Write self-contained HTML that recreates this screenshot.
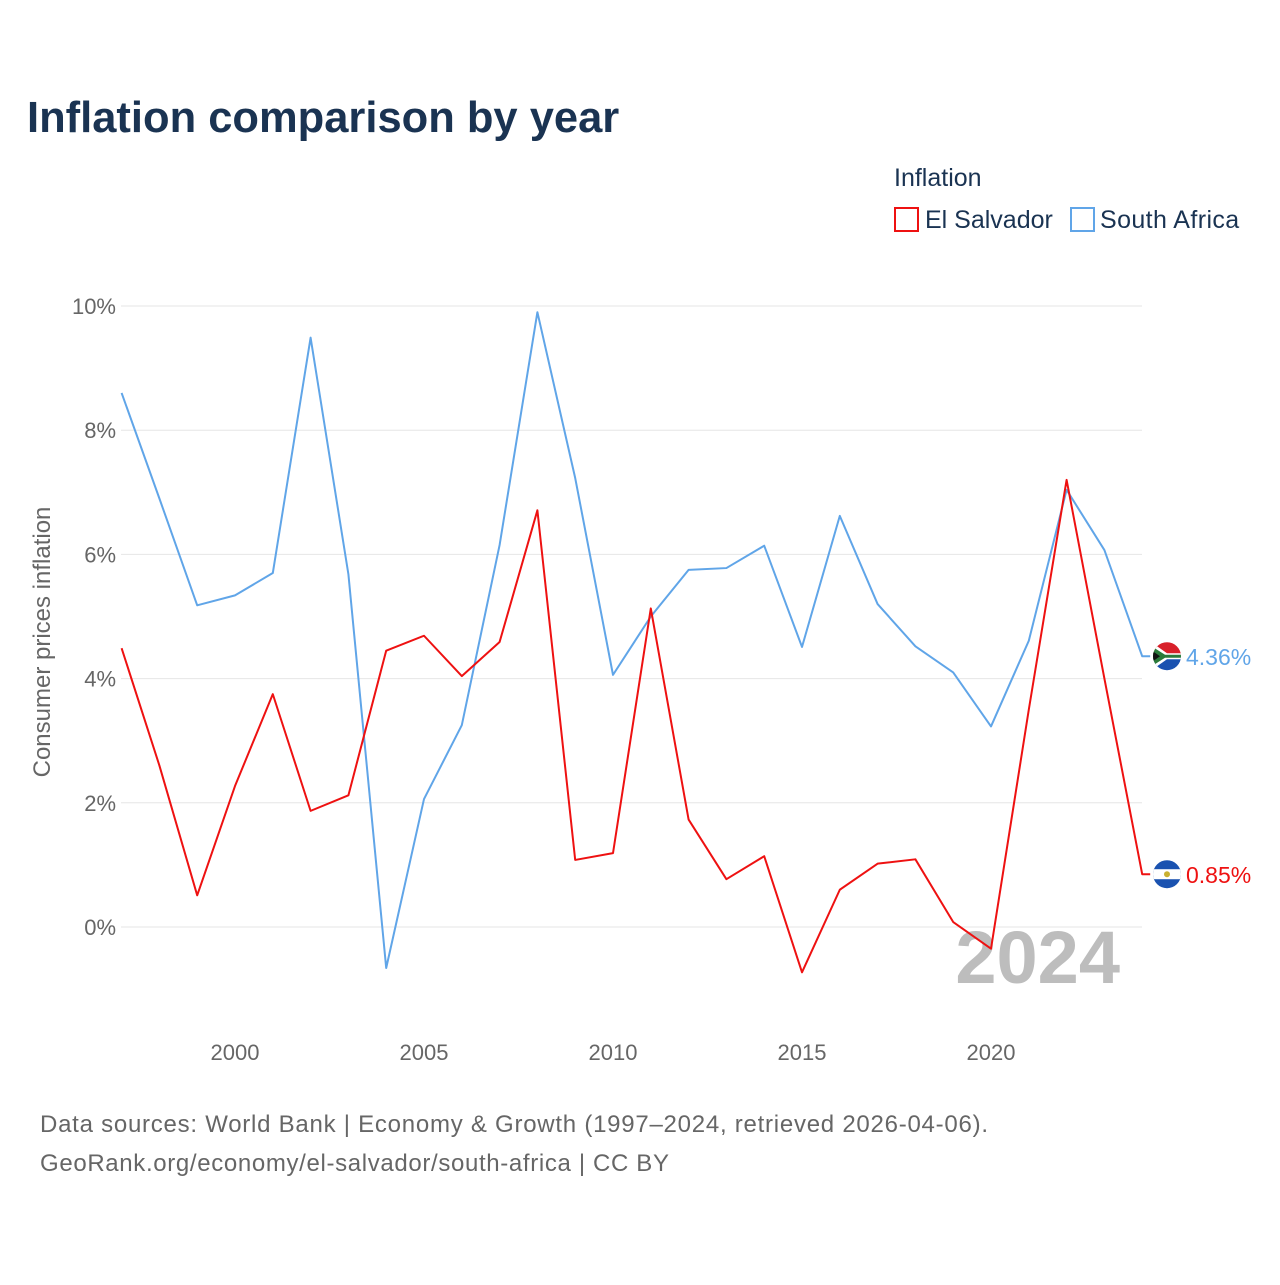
<!DOCTYPE html>
<html><head><meta charset="utf-8"><style>
body{margin:0;background:#fff;font-family:"Liberation Sans",sans-serif}
</style></head><body>
<svg id="c" width="1280" height="1280" xmlns="http://www.w3.org/2000/svg">
<text x="27" y="132" font-size="43.5" font-weight="bold" fill="#1a3352">Inflation comparison by year</text>
<text x="894" y="186" font-size="25" fill="#1a3352">Inflation</text>
<g><rect x="895" y="208" width="23" height="23" fill="none" stroke="#ee1111" stroke-width="2"/><text x="925" y="228" font-size="25" fill="#1a3352">El Salvador</text></g>
<g><rect x="1071" y="208" width="23" height="23" fill="none" stroke="#60a5e8" stroke-width="2"/><text x="1100" y="228" font-size="25" fill="#1a3352" letter-spacing="0.4">South Africa</text></g>
<text transform="translate(50,642) rotate(-90)" text-anchor="middle" font-size="24" fill="#666">Consumer prices inflation</text>
<g id="grid"></g><g id="xt"></g>
<text x="1120" y="983" text-anchor="end" font-size="74" font-weight="bold" fill="#bdbdbd">2024</text>
<g id="lines"></g>
<text x="40" y="1132" font-size="24" fill="#666" letter-spacing="0.75">Data sources: World Bank | Economy &amp; Growth (1997–2024, retrieved 2026-04-06).</text>
<text x="40" y="1171" font-size="24" fill="#666" letter-spacing="0.65">GeoRank.org/economy/el-salvador/south-africa | CC BY</text>
</svg>
<script>
const years=[1997,1998,1999,2000,2001,2002,2003,2004,2005,2006,2007,2008,2009,2010,2011,2012,2013,2014,2015,2016,2017,2018,2019,2020,2021,2022,2023,2024];
const southAfrica=[8.6,6.9,5.18,5.34,5.7,9.49,5.68,-0.66,2.06,3.25,6.15,9.9,7.23,4.06,5.0,5.75,5.78,6.14,4.51,6.62,5.2,4.52,4.1,3.23,4.61,7.04,6.07,4.36];
const elSalvador=[4.49,2.6,0.51,2.27,3.75,1.87,2.12,4.45,4.69,4.04,4.59,6.71,1.08,1.19,5.13,1.73,0.77,1.14,-0.73,0.6,1.02,1.09,0.08,-0.35,3.5,7.2,4.0,0.85];
const yTicks=[0,2,4,6,8,10];
const xTicks=[2000,2005,2010,2015,2020];
const NS="http://www.w3.org/2000/svg";
const X=y=>121.6+(y-1997)*37.8, Y=v=>927-v*62.1;
function mk(t,a,p){const e=document.createElementNS(NS,t);for(const k in a)e.setAttribute(k,a[k]);p.appendChild(e);return e;}
const g=document.getElementById('grid');
yTicks.forEach(v=>{
 const l=mk('line',{x1:121,x2:1142,y1:Y(v),y2:Y(v),stroke:'#e6e6e6','stroke-width':1},g);
 
 
 const t=mk('text',{x:116,y:Y(v)+8,'text-anchor':'end','font-size':22,fill:'#666'},g);
 
 
 t.textContent=v+'%';
});
const xt=document.getElementById('xt');
xTicks.forEach(v=>{
 const t=mk('text',{x:X(v),y:1060,'text-anchor':'middle','font-size':22,fill:'#666'},xt);
 
 
 t.textContent=v;
});
const L=document.getElementById('lines');
const defs=mk('defs',{},L);
function series(vals,col,name){
 const pts=vals.map((v,i)=>X(years[i])+','+Y(v)).join(' ');
 const last=vals[vals.length-1];
 const p=mk('polyline',{points:pts+' '+(X(2024)+8)+','+Y(last),fill:'none',stroke:col,'stroke-width':2,'stroke-linejoin':'round'},L);
 
 
 const cp=mk('clipPath',{id:'cp-'+name},defs);
 mk('circle',{cx:1167,cy:Y(last),r:14},cp);
 const fg=mk('g',{'clip-path':'url(#cp-'+name+')'},L);
 
 
 const cy=Y(last);
 if(name==='el-salvador'){
  mk('rect',{x:1150,y:cy-15,width:34,height:30,fill:'#1a52b0'},fg);
  mk('rect',{x:1150,y:cy-5,width:34,height:10,fill:'#fff'},fg);
  mk('circle',{cx:1167,cy:cy,r:3,fill:'#c9b030'},fg);
 }else{
  mk('rect',{x:1150,y:cy-15,width:34,height:15,fill:'#d8202a'},fg);
  mk('rect',{x:1150,y:cy,width:34,height:15,fill:'#1a52b0'},fg);
  mk('path',{d:`M1150 ${cy-15}L1167 ${cy-3}H1184V${cy+3}H1167L1150 ${cy+15}Z`,fill:'#fff'},fg);
  mk('path',{d:`M1150 ${cy-11}L1165 ${cy-1.5}H1184V${cy+1.5}H1165L1150 ${cy+11}Z`,fill:'#2a7a3a'},fg);
  mk('path',{d:`M1150 ${cy-7}L1160 ${cy}L1150 ${cy+7}Z`,fill:'#111'},fg);
 }
 const t=mk('text',{x:1186,y:cy+9,'font-size':23,fill:col},L);
 
 
 t.textContent=last.toFixed(2)+'%';
}
series(southAfrica,'#60a5e8','south-africa');
series(elSalvador,'#ee1111','el-salvador');
</script>
</body></html>
